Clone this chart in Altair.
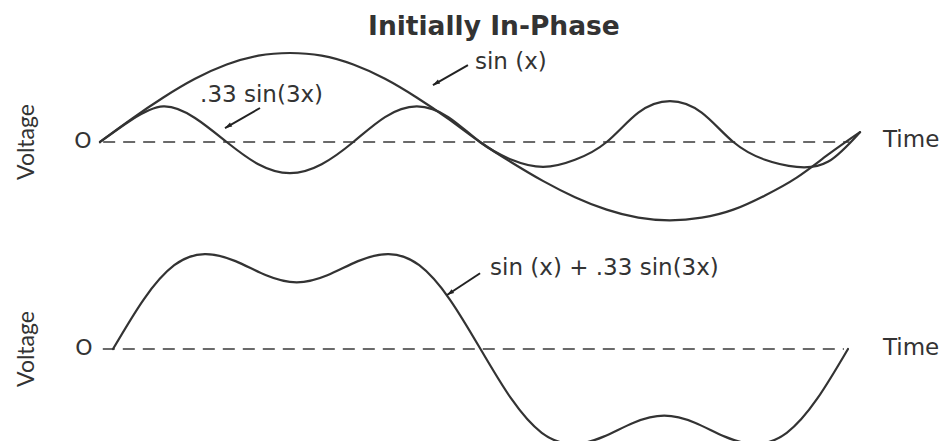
import altair as alt
import pandas as pd

# Phase angle of the fundamental, in degrees (one full cycle)
DEG = [0, 15, 30, 45, 60, 75, 90, 105, 120, 135, 150, 165, 180,
       195, 210, 225, 240, 255, 270, 285, 300, 315, 330, 345, 360]

# Upper panel: fundamental and third harmonic (volts)
SIN_X = [0, .26, .50, .71, .87, .97, 1.00, .97, .87, .71, .50, .26, 0,
         -.23, -.44, -.62, -.76, -.85, -.88, -.85, -.76, -.60, -.40, -.14, .11]
HARM_3X = [0, .25, .40, .27, 0, -.25, -.35, -.25, 0, .28, .40, .28, 0,
           -.20, -.28, -.20, 0, .33, .46, .33, 0, -.20, -.28, -.22, .11]

# Lower panel: the sum of the two
SUM = [0, .49, .83, .94, .87, .73, .66, .73, .87, .94, .83, .49, 0,
       -.49, -.83, -.94, -.87, -.73, -.66, -.73, -.87, -.94, -.83, -.49, 0]

INK = "#333333"
DASH = "#6a6a6a"
FONT = "DejaVu Sans"
NARROW = "Lato"

# Scales of each panel
TX = alt.Scale(domain=[0, 360], range=[100, 860], nice=False, zero=False)
TY = alt.Scale(domain=[0, 1], range=[142, 53], nice=False, zero=False)
BX = alt.Scale(domain=[0, 360], range=[113, 848], nice=False, zero=False)
BY = alt.Scale(domain=[0, 1], range=[349, 248], nice=False, zero=False)

top_df = pd.DataFrame({
    "deg": DEG + DEG,
    "v": SIN_X + HARM_3X,
    "curve": ["sin(x)"] * len(DEG) + [".33 sin(3x)"] * len(DEG),
})
bot_df = pd.DataFrame({"deg": DEG, "v": SUM, "curve": "sum"})


def xy(sx, sy, xf="deg", yf="v"):
    return dict(x=alt.X(f"{xf}:Q", scale=sx, axis=None),
                y=alt.Y(f"{yf}:Q", scale=sy, axis=None))


def curves(df, sx, sy):
    return alt.Chart(df).mark_line(
        interpolate="natural", stroke=INK, strokeWidth=2.2, strokeCap="round"
    ).encode(detail="curve:N", **xy(sx, sy))


def zero_line(x0, x1, sx, sy):
    d = pd.DataFrame({"x0": [x0], "x1": [x1], "v": [0]})
    return alt.Chart(d).mark_rule(
        stroke=DASH, strokeWidth=2, strokeDash=[12, 8]
    ).encode(x=alt.X("x0:Q", scale=sx, axis=None), x2="x1:Q",
             y=alt.Y("v:Q", scale=sy, axis=None))


def labels(rows, sx, sy, **style):
    d = pd.DataFrame(rows, columns=["deg", "v", "label"])
    return alt.Chart(d).mark_text(color=INK, baseline="middle", **style).encode(
        text="label:N", **xy(sx, sy))


def arrow(tail, head, angle, sx, sy):
    d = pd.DataFrame({"x0": [tail[0]], "y0": [tail[1]],
                      "x1": [head[0]], "y1": [head[1]], "a": [angle]})
    shaft = alt.Chart(d).mark_rule(stroke="#222", strokeWidth=2).encode(
        x=alt.X("x0:Q", scale=sx, axis=None), x2="x1:Q",
        y=alt.Y("y0:Q", scale=sy, axis=None), y2="y1:Q")
    tip = alt.Chart(d).mark_point(
        shape="M0,0 L0.32,1 L-0.32,1 Z", filled=True, fill="#222",
        strokeWidth=0, size=200, opacity=1
    ).encode(x=alt.X("x1:Q", scale=sx, axis=None),
             y=alt.Y("y1:Q", scale=sy, axis=None),
             angle=alt.Angle("a:Q", scale=None))
    return [shaft, tip]


layers = [
    zero_line(1.5, 355, TX, TY),
    curves(top_df, TX, TY),
    zero_line(-5, 358, BX, BY),
    curves(bot_df, BX, BY),
    labels([[186.6, 1.29, "Initially In-Phase"]], TX, TY,
           align="center", font=FONT, fontSize=26.5, fontWeight="bold"),
    labels([[177.6, 0.90, "sin (x)"], [47.4, 0.53, ".33 sin(3x)"],
            [370.9, 0.02, "Time"]], TX, TY,
           align="left", font=FONT, fontSize=23),
    labels([[184.7, 0.80, "sin (x) + .33 sin(3x)"], [377.1, 0.01, "Time"]], BX, BY,
           align="left", font=FONT, fontSize=23),
    labels([[-8.05, 0.01, "O"]], TX, TY, align="center", font=FONT, fontSize=22),
    labels([[-14.2, 0.01, "O"]], BX, BY, align="center", font=FONT, fontSize=22),
    labels([[-34.6, 0.0, "Voltage"]], TX, TY, align="center", font=NARROW,
           fontSize=23, angle=270),
    labels([[-42.1, 0.0, "Voltage"]], BX, BY, align="center", font=NARROW,
           fontSize=23, angle=270),
]
layers += arrow((174.3, 0.865), (157.7, 0.64), 240, TX, TY)
layers += arrow((75.8, 0.382), (59.2, 0.157), 240, TX, TY)
layers += arrow((179.8, 0.75), (163.6, 0.535), 236, BX, BY)

chart = alt.layer(*layers).resolve_scale(
    x="independent", y="independent"
).properties(
    width=944, height=441, padding=0, autosize="none", background="white"
).configure_view(stroke=None)

chart.save("out.html", embed_options={"renderer": "svg", "actions": False})
